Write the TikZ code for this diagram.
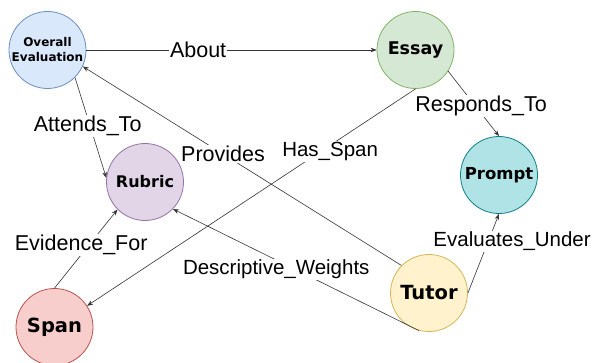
\documentclass[tikz,border=0pt]{standalone}
\usepackage{fontspec}
\setmainfont{Liberation Sans}
\newfontfamily\nodefont{DejaVu Sans}
\usetikzlibrary{arrows.meta,positioning}

\definecolor{overallFill}{HTML}{DAE8FC}
\definecolor{overallLine}{HTML}{6C8EBF}
\definecolor{essayFill}{HTML}{D5E8D4}
\definecolor{essayLine}{HTML}{82B366}
\definecolor{rubricFill}{HTML}{E1D5E7}
\definecolor{rubricLine}{HTML}{9673A6}
\definecolor{promptFill}{HTML}{B0E3E6}
\definecolor{promptLine}{HTML}{0E8088}
\definecolor{spanFill}{HTML}{F8CECC}
\definecolor{spanLine}{HTML}{B85450}
\definecolor{tutorFill}{HTML}{FFF2CC}
\definecolor{tutorLine}{HTML}{D6B656}

\begin{document}
\begin{tikzpicture}[x=1pt, y=1pt,
    ent/.style={circle, minimum size=77pt, inner sep=0pt, line width=0.8pt, align=center},
    lbl/.style={fill=white, inner sep=1pt, font=\fontsize{21.5}{25}\selectfont},
    lblsmall/.style={lbl, font=\fontsize{20.5}{24}\selectfont},
    rel/.style={draw=black!80, line width=0.6pt, -{Stealth[length=6pt,width=4.5pt]}}]
    \useasboundingbox (0,0) rectangle (594,-363);

    \node[ent, fill=overallFill, draw=overallLine, font=\nodefont\bfseries\fontsize{12}{15}\selectfont] (overall) at (47.5,-50) {Overall\\Evaluation};
    \node[ent, fill=essayFill, draw=essayLine, font=\nodefont\bfseries\fontsize{17.5}{20}\selectfont] (essay) at (415.5,-50) {Essay};
    \node[ent, fill=rubricFill, draw=rubricLine, font=\nodefont\bfseries\fontsize{16}{19}\selectfont] (rubric) at (145,-182) {Rubric};
    \node[ent, fill=promptFill, draw=promptLine, font=\nodefont\bfseries\fontsize{16.5}{19}\selectfont] (prompt) at (499,-175) {Prompt};
    \node[ent, fill=spanFill, draw=spanLine, font=\nodefont\bfseries\fontsize{19.5}{22}\selectfont] (span) at (54.5,-327) {Span};
    \node[ent, fill=tutorFill, draw=tutorLine, font=\nodefont\bfseries\fontsize{19.5}{22}\selectfont] (tutor) at (429,-293) {Tutor};

    \draw[rel] (overall.0) -- node[lbl, pos=0.385] {About} (essay.180);
    \draw[rel] (overall.-45) -- node[lbl, xshift=-3pt, yshift=2pt] {Attends\_To} (rubric.174);
    \draw[rel] (tutor.135) -- node[lbl, pos=0.56] {Provides} (overall.-25);
    \draw[rel] (essay.270) -- node[lblsmall, pos=0.26, yshift=-6pt] {Has\_Span} (span.33);
    \draw[rel] (essay.-33) -- node[lbl, pos=0.53, xshift=6pt] {Responds\_To} (prompt.90);
    \draw[rel] (span.90) -- node[lbl, pos=0.55, xshift=-8pt] {Evidence\_For} (rubric.225);
    \draw[rel] (tutor.255) -- node[lblsmall, pos=0.58, yshift=-9pt] {Descriptive\_Weights} (rubric.-44);
    \draw[rel] (tutor.0) -- node[lblsmall, pos=0.65, xshift=24pt] {Evaluates\_Under} (prompt.270);
\end{tikzpicture}
\end{document}
